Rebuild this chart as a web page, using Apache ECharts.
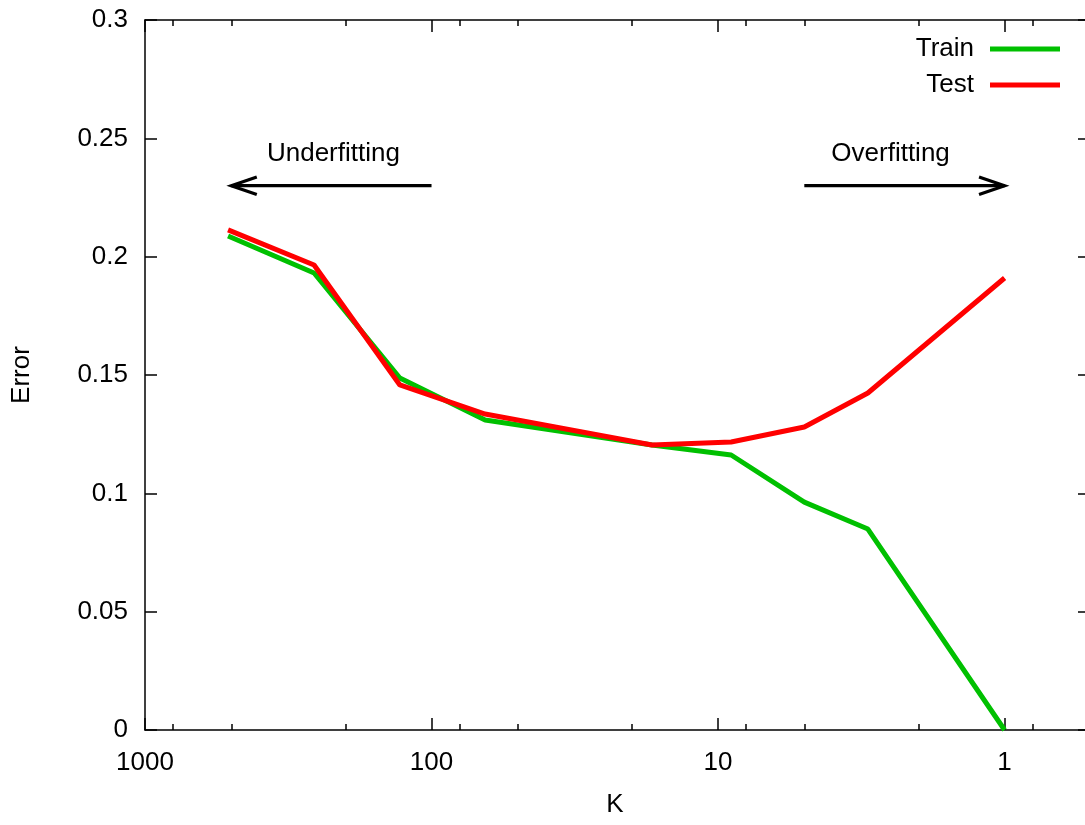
<!DOCTYPE html>
<html>
<head>
<meta charset="utf-8">
<script src="https://cdn.jsdelivr.net/npm/echarts@6/dist/echarts.min.js"></script>
<style>
  html, body { margin: 0; padding: 0; background: #fff; }
  #chart { width: 1085px; height: 825px; }
</style>
</head>
<body>
<div id="chart"></div>
<script>
// values
var kValues = [513, 257, 129, 65, 17, 9, 5, 3, 1];
var trainError = [0.2087, 0.1931, 0.1487, 0.1310, 0.1204, 0.1162, 0.0963, 0.0849, 0.0];
var testError = [0.2113, 0.1965, 0.1458, 0.1335, 0.1204, 0.1217, 0.1280, 0.1424, 0.1910];

// axis ticks (K is on a log scale, running backwards)
var majorTicks = [1000, 100, 10, 1];
var minorTicks = [800, 500, 200, 80, 50, 20, 8, 5, 2, 0.8];
// the picture is cut just before K = 0.5, so the visible edge sits a bit above it
var kMin = 0.524;
var kMax = 1000;

// arrows and their captions
var arrowText = ['Underfitting', 'Overfitting'];
var arrowFrom = [100, 5];
var arrowTo = [500, 1];
var arrowError = 0.23;
var captionK = [220, 2.5];
var captionError = 0.2434;

var FONT = '"Liberation Sans", Arial, sans-serif';
var FONT_SIZE = 26;

function lg(v){
  return Math.log(v) / Math.LN10;
}

function pairs(xs, ys){
  var out = [];
  for( var i = 0 ; i < xs.length ; i++ ){
    out.push([lg(xs[i]), ys[i]]);
  }
  return out;
}

function makeXAxis(position, major){
  var ticks = (major ? majorTicks : minorTicks).map(lg);
  return {
    type: 'value',
    position: position,
    min: lg(kMin),
    max: lg(kMax),
    inverse: true,
    splitLine: { show: false },
    axisLine: { show: major, onZero: false, lineStyle: { color: '#000', width: 1.5 } },
    axisTick: {
      show: true,
      inside: true,
      length: major ? 12 : 6,
      customValues: ticks,
      lineStyle: { color: '#000', width: 1.5 }
    },
    axisLabel: {
      show: major && position == 'bottom',
      customValues: ticks,
      margin: 20,
      color: '#000',
      fontFamily: FONT,
      fontSize: FONT_SIZE,
      formatter: function(v){
        return String(Math.round(Math.pow(10, v) * 1000) / 1000);
      }
    },
    name: (major && position == 'bottom') ? 'K' : '',
    nameLocation: 'middle',
    nameGap: 62,
    nameTextStyle: { color: '#000', fontFamily: FONT, fontSize: FONT_SIZE }
  };
}

function makeYAxis(position){
  var left = position == 'left';
  return {
    type: 'value',
    position: position,
    min: 0,
    max: 0.3,
    interval: 0.05,
    splitLine: { show: false },
    // the right border itself falls outside the picture, only its tick stubs show
    axisLine: { show: left, onZero: false, lineStyle: { color: '#000', width: 1.5 } },
    axisTick: { show: true, inside: true, length: left ? 12 : 7, lineStyle: { color: '#000', width: 1.5 } },
    axisLabel: {
      show: left,
      margin: 17,
      color: '#000',
      fontFamily: FONT,
      fontSize: FONT_SIZE
    },
    name: left ? 'Error' : '',
    nameLocation: 'middle',
    nameGap: 110,
    nameRotate: 90,
    nameTextStyle: { color: '#000', fontFamily: FONT, fontSize: FONT_SIZE }
  };
}

function renderArrow(params, api){
  var p0 = api.coord([api.value(0), api.value(2)]);
  var p1 = api.coord([api.value(1), api.value(2)]);
  var t = api.coord([api.value(3), api.value(4)]);
  var ang = Math.atan2(p1[1] - p0[1], p1[0] - p0[0]);
  var len = 27;
  var spread = 0.33;
  var a1 = [p1[0] - len * Math.cos(ang - spread), p1[1] - len * Math.sin(ang - spread)];
  var a2 = [p1[0] - len * Math.cos(ang + spread), p1[1] - len * Math.sin(ang + spread)];
  var stroke = { stroke: '#000', lineWidth: 3.2, fill: null };
  return {
    type: 'group',
    children: [
      { type: 'line', shape: { x1: p0[0], y1: p0[1], x2: p1[0], y2: p1[1] }, style: stroke },
      { type: 'polyline', shape: { points: [a1, p1, a2] }, style: stroke },
      {
        type: 'text',
        x: t[0],
        y: t[1],
        style: {
          text: arrowText[params.dataIndex],
          fill: '#000',
          font: FONT_SIZE + 'px ' + FONT,
          align: 'center',
          verticalAlign: 'middle'
        }
      }
    ]
  };
}

var arrowData = [];
for( var i = 0 ; i < arrowText.length ; i++ ){
  arrowData.push([lg(arrowFrom[i]), lg(arrowTo[i]), arrowError, lg(captionK[i]), captionError]);
}

var chart = echarts.init(document.getElementById('chart'), null, { renderer: 'canvas' });

chart.setOption({
  animation: false,
  backgroundColor: '#fff',
  grid: { left: 145, right: 0, top: 20, bottom: 95, containLabel: false },
  xAxis: [
    makeXAxis('bottom', true),
    makeXAxis('bottom', false),
    makeXAxis('top', true),
    makeXAxis('top', false)
  ],
  yAxis: [
    makeYAxis('left'),
    makeYAxis('right')
  ],
  legend: {
    orient: 'vertical',
    right: 20,
    top: 31,
    align: 'right',
    itemWidth: 70,
    itemHeight: 5,
    itemGap: 10,
    icon: 'rect',
    textStyle: { color: '#000', fontFamily: FONT, fontSize: FONT_SIZE, lineHeight: 24, padding: [0, 11, 0, 0] },
    data: ['Train', 'Test']
  },
  series: [
    {
      name: 'Train',
      type: 'line',
      data: pairs(kValues, trainError),
      symbol: 'none',
      color: '#00c000',
      lineStyle: { color: '#00c000', width: 5 }
    },
    {
      name: 'Test',
      type: 'line',
      data: pairs(kValues, testError),
      symbol: 'none',
      color: '#ff0000',
      lineStyle: { color: '#ff0000', width: 5 }
    },
    {
      type: 'custom',
      renderItem: renderArrow,
      data: arrowData,
      silent: true
    }
  ]
});
</script>
</body>
</html>
